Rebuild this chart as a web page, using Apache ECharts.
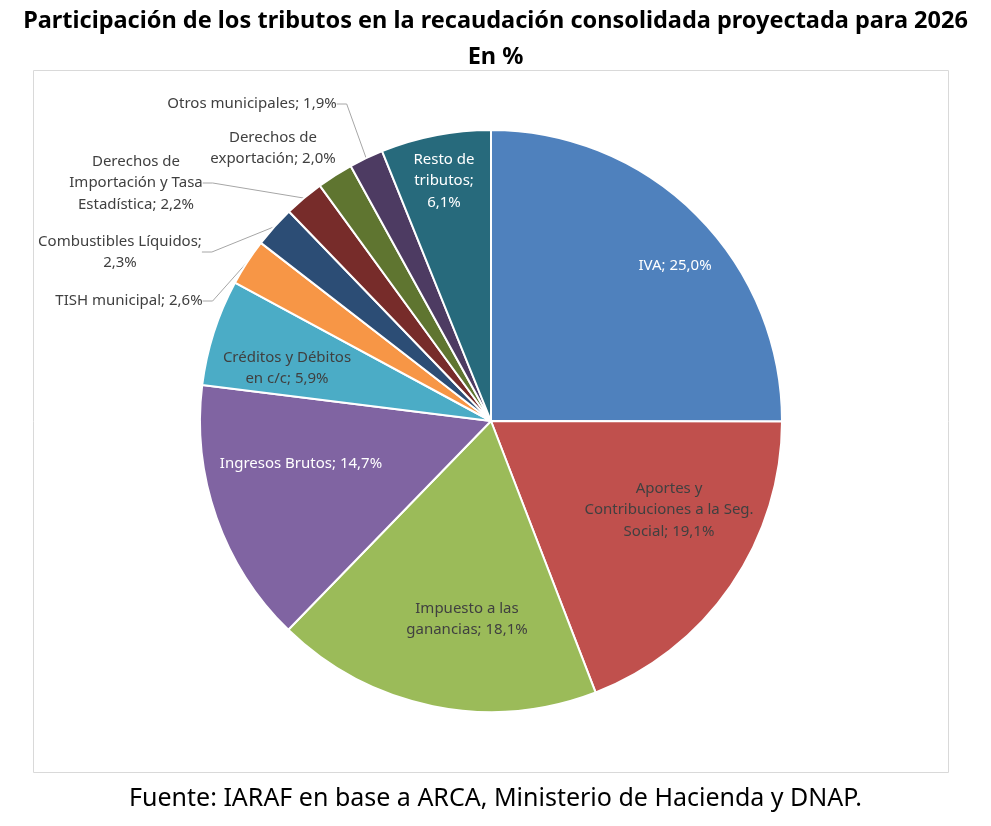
<!DOCTYPE html>
<html lang="es">
<head>
    <meta charset="UTF-8"/>
    <script type="text/javascript" src="https://cdn.jsdelivr.net/npm/echarts@6/dist/echarts.min.js"></script>
    <title>Participación de los tributos</title>
    <style>
        html, body { margin: 0; padding: 0; background: #fff; }
        #main { width: 991px; height: 826px; }
    </style>
</head>
<body>
<div id="main"></div>
<script type="text/javascript">
    // datos (en %)
    var categories = ['IVA', 'Aportes y Contribuciones a la Seg. Social', 'Impuesto a las ganancias',
        'Ingresos Brutos', 'Créditos y Débitos en c/c', 'TISH municipal', 'Combustibles Líquidos',
        'Derechos de Importación y Tasa Estadística', 'Derechos de exportación', 'Otros municipales',
        'Resto de tributos']
    var values = [25.0, 19.1, 18.1, 14.7, 5.9, 2.6, 2.3, 2.2, 2.0, 1.9, 6.1]

    var colors = ['#4F81BD', '#C0504D', '#9BBB59', '#8064A2', '#4BACC6', '#F79646',
        '#2C4D75', '#772C2A', '#5F7530', '#4D3B62', '#276A7C']

    // como corta Excel las etiquetas
    var wrapped = {
        'Aportes y Contribuciones a la Seg. Social': 'Aportes y\nContribuciones a la Seg.\nSocial',
        'Impuesto a las ganancias': 'Impuesto a las\nganancias',
        'Créditos y Débitos en c/c': 'Créditos y Débitos\nen c/c',
        'Combustibles Líquidos': 'Combustibles Líquidos;\n',
        'Derechos de Importación y Tasa Estadística': 'Derechos de\nImportación y Tasa\nEstadística',
        'Derechos de exportación': 'Derechos de\nexportación',
        'Resto de tributos': 'Resto de\ntributos;\n'
    }
    var whiteText = ['IVA', 'Ingresos Brutos', 'Resto de tributos']
    var outside = ['TISH municipal', 'Combustibles Líquidos',
        'Derechos de Importación y Tasa Estadística', 'Derechos de exportación', 'Otros municipales']
    // centro de cada etiqueta (px)
    var labelSpots = [[675, 266], [669, 510], [467, 619], [301, 464], [287, 368], [129, 301],
        [120, 252], [136, 183], [273, 148], [252, 104], [444, 181]]

    function fmt(v) {
        return v.toFixed(1).replace('.', ',') + '%'
    }

    var pieData = []
    for (var i = 0; i < categories.length; i++) {
        var name = categories[i]
        var isOut = outside.indexOf(name) >= 0
        pieData.push({
            name: name,
            value: values[i],
            itemStyle: {color: colors[i]},
            label: {
                position: isOut ? 'outside' : 'inside',
                color: whiteText.indexOf(name) >= 0 ? '#ffffff' : '#404040'
            },
            labelLine: {show: isOut && name !== 'Derechos de exportación'}
        })
    }

    var myChart = echarts.init(document.getElementById('main'))
    var option = {
        animation: false,
        textStyle: {fontFamily: 'Noto Sans'},
        title: {
            text: 'Participación de los tributos en la recaudación consolidada proyectada para 2026\nEn %',
            left: 'center',
            top: -2,
            textStyle: {fontFamily: 'Noto Sans', fontWeight: 'bold', fontSize: 23.5, lineHeight: 36, color: '#000'}
        },
        graphic: [{
            type: 'rect',
            shape: {x: 33.5, y: 70.5, width: 915, height: 702},
            style: {fill: 'none', stroke: '#d9d9d9', lineWidth: 1},
            z: -1
        }, {
            type: 'text',
            left: 'center',
            top: 786,
            style: {
                text: 'Fuente: IARAF en base a ARCA, Ministerio de Hacienda y DNAP.',
                fontFamily: 'Noto Sans', fontSize: 25, fill: '#000'
            }
        }],
        series: [{
            type: 'pie',
            center: [491, 421],
            radius: 291,
            startAngle: 90,
            clockwise: true,
            avoidLabelOverlap: false,
            itemStyle: {borderColor: '#fff', borderWidth: 2},
            label: {
                fontSize: 15,
                lineHeight: 21.5,
                align: 'center',
                formatter: function (p) {
                    var t = wrapped[p.name] || p.name
                    if (t.charAt(t.length - 1) === '\n') return t + fmt(p.value)
                    return t + '; ' + fmt(p.value)
                }
            },
            labelLine: {lineStyle: {color: '#a6a6a6', width: 1}, length: 10, length2: 10},
            labelLayout: function (params) {
                var s = labelSpots[params.dataIndex]
                return {x: s[0], y: s[1], align: 'center', verticalAlign: 'middle'}
            },
            data: pieData
        }]
    }
    myChart.setOption(option)
</script>
</body>
</html>
